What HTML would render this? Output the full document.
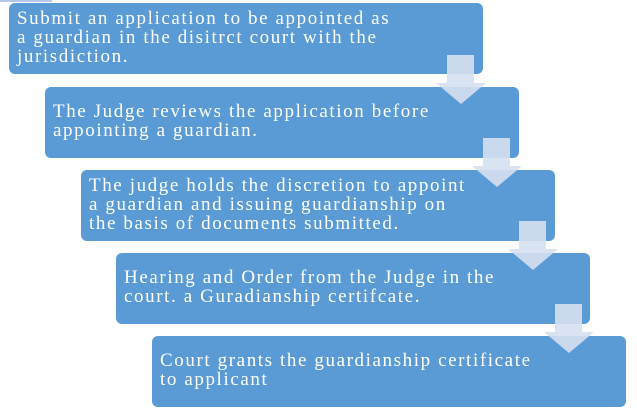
<!DOCTYPE html><html><head><style>
body{margin:0;width:637px;height:418px;background:#fff;position:relative;overflow:hidden;font-family:"Liberation Serif",serif}
.b{position:absolute;width:474px;height:71px;background:#5b9bd5;border-radius:6px;color:#fff;font-size:19px;line-height:19px;letter-spacing:1.6px;box-sizing:border-box;padding:6px 0 0 8px;white-space:nowrap}
.s{position:absolute;width:27px;height:28px;background:rgba(214,224,240,0.9)}
.h{position:absolute;width:0;height:0;border-left:25px solid transparent;border-right:25px solid transparent;border-top:21px solid rgba(214,224,240,0.9)}
</style></head><body>
<div style="position:absolute;left:0;top:0;width:52px;height:2px;background:#b4c7e7"></div>
<div class="b" style="left:9px;top:3px">Submit an application to be appointed as<br>a guardian in the disitrct court with the<br>jurisdiction.</div>
<div class="b" style="left:45px;top:87px;padding-top:15px">The Judge reviews the application before<br>appointing a guardian.</div>
<div class="b" style="left:81px;top:170px">The judge holds the discretion to appoint<br>a guardian and issuing guardianship on<br>the basis of documents submitted.</div>
<div class="b" style="left:116px;top:253px;padding-top:15px">Hearing and Order from the Judge in the<br>court. a Guradianship certifcate.</div>
<div class="b" style="left:152px;top:336px;padding-top:15px">Court grants the guardianship certificate<br>to applicant</div>
<div class="s" style="left:447px;top:55px"></div><div class="h" style="left:436px;top:83px"></div>
<div class="s" style="left:483px;top:138px"></div><div class="h" style="left:472px;top:166px"></div>
<div class="s" style="left:519px;top:221px"></div><div class="h" style="left:508px;top:249px"></div>
<div class="s" style="left:555px;top:304px"></div><div class="h" style="left:544px;top:332px"></div>
</body></html>
